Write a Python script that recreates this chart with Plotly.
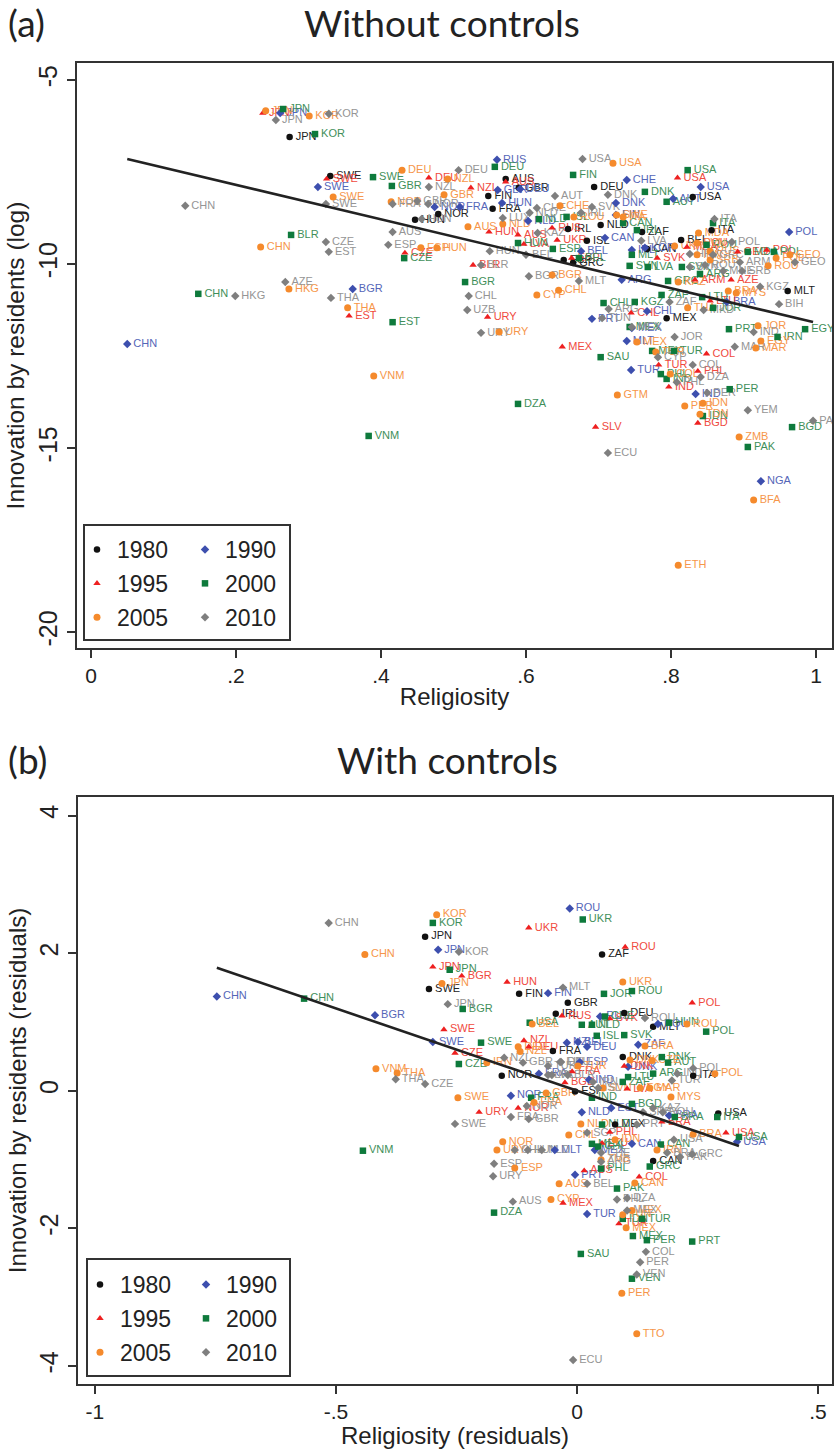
import plotly.graph_objects as go

YEARS = ["1980", "1990", "1995", "2000", "2005", "2010"]
TITLE_A = "Without controls"
TITLE_B = "With controls"

# ---------- Panel (a): religiosity vs log innovation ----------
A_1980_C = ["JPN","SWE","HUN","NOR","AUS","GBR","FIN","FRA","DEU","IRL","ISL","NLD","ZAF","BEL","CAN","ITA","MLT","MEX","USA","ESP","GRC"]
A_1980_X = [.274,.330,.447,.479,.572,.590,.548,.554,.694,.658,.684,.703,.760,.814,.767,.856,.961,.794,.830,.652,.665]
A_1980_Y = [-6.55,-7.61,-8.80,-8.64,-7.69,-7.93,-8.15,-8.50,-7.91,-9.05,-9.37,-8.94,-9.13,-9.35,-9.59,-9.08,-10.73,-11.47,-8.18,-9.89,-9.97]

A_1990_C = ["CHN","JPN","SWE","BGR","NOR","FRA","RUS","GBR","HUN","DEU","NLD","CHE","DNK","FIN","BEL","CAN","USA","AUT","POL","ARG","IRL","KOR","CHL","PRT","MLT","MEX","TUR","IND","BRA","NGA"]
A_1990_X = [.050,.261,.313,.361,.474,.509,.560,.561,.567,.592,.603,.739,.724,.724,.676,.709,.841,.803,.963,.732,.746,.764,.767,.691,.739,.746,.745,.834,.877,.924]
A_1990_Y = [-12.17,-5.90,-7.91,-10.68,-8.45,-8.45,-7.17,-7.99,-8.34,-7.96,-8.83,-7.72,-8.34,-8.67,-9.65,-9.29,-7.91,-8.23,-9.13,-10.43,-9.62,-9.56,-11.28,-11.49,-12.09,-11.74,-12.88,-13.53,-11.03,-15.90]

A_1995_C = ["JPN","SWE","DEU","CZE","EST","NZL","AUS","HUN","AUS","LVA","UKR","RUS","BLR","URY","MEX","CHL","SLV","TUR","IND","COL","PHL","BGD","SVK","ESP","LTU","AZE","GEO","MDA","ROU","USA","ARM","POL"]
A_1995_X = [.237,.325,.466,.433,.356,.524,.572,.549,.589,.597,.643,.636,.527,.547,.650,.745,.696,.783,.797,.849,.837,.837,.781,.663,.854,.883,.892,.822,.836,.809,.833,.932]
A_1995_Y = [-5.90,-7.69,-7.66,-9.70,-11.41,-7.93,-7.77,-9.13,-9.21,-9.46,-9.35,-9.02,-10.03,-11.44,-12.25,-11.33,-14.43,-12.74,-13.34,-12.44,-12.91,-14.32,-9.84,-9.84,-11.00,-10.43,-9.67,-9.54,-9.43,-7.66,-10.43,-9.62]

A_2000_C = ["JPN","KOR","SWE","GBR","BLR","CHN","EST","CZE","VNM","DEU","FIN","USA","DNK","AUT","NLD","ISL","CAN","ITA","IRL","HUN","ESP","BEL","MLT","SVN","LVA","GRC","BGR","CHL","KGZ","ZAF","LTU","JOR","MDA","POL","SVK","ARG","ROU","PRT","EGY","IRN","MEX","MEX","TUR","SAU","DZA","PER","BGD","PAK","IDN","PHL","IND"]
A_2000_X = [.265,.309,.389,.415,.276,.148,.416,.432,.383,.557,.665,.823,.764,.794,.618,.656,.734,.858,.753,.589,.637,.673,.746,.743,.768,.796,.516,.707,.750,.787,.843,.858,.906,.942,.815,.840,.849,.880,.985,.947,.743,.774,.804,.703,.589,.881,.967,.906,.844,.786,.794]
A_2000_Y = [-5.79,-6.47,-7.64,-7.88,-9.21,-10.81,-11.58,-9.84,-14.67,-7.36,-7.58,-7.45,-8.04,-8.31,-8.78,-8.72,-8.89,-8.89,-9.08,-9.43,-9.59,-9.84,-9.75,-10.05,-10.08,-10.46,-10.49,-11.06,-11.03,-10.84,-10.90,-11.19,-9.67,-9.67,-10.08,-10.27,-9.48,-11.77,-11.77,-11.98,-11.71,-12.36,-12.36,-12.53,-13.80,-13.40,-14.43,-14.97,-14.13,-12.99,-13.12]

A_2005_C = ["JPN","KOR","SWE","DEU","NOR","CHN","HKG","THA","VNM","ESP","HUN","GBR","NZL","CHE","USA","AUS","NLD","CYP","CHL","BGR","URY","ROU","ITA","SWE","MDA","UKR","SVN","IRN","SRB","RUS","GEO","ROU","POL","BRA","MYS","THA","KAZ","JOR","EGY","MAR","MEX","TUR","GTM","PER","IDN","TDN","ZMB","COL","ETH","BFA"]
A_2005_X = [.241,.301,.334,.429,.414,.234,.273,.354,.390,.455,.477,.487,.492,.647,.720,.520,.568,.615,.645,.636,.563,.666,.734,.725,.838,.805,.836,.836,.854,.854,.964,.934,.945,.879,.890,.823,.810,.920,.924,.917,.753,.779,.726,.819,.844,.840,.894,.799,.810,.914]
A_2005_Y = [-5.84,-5.98,-8.18,-7.45,-8.31,-9.54,-10.68,-11.19,-13.04,-9.56,-9.56,-8.12,-7.69,-8.42,-7.26,-8.99,-8.91,-10.84,-10.71,-10.30,-11.85,-8.72,-8.72,-8.67,-9.16,-9.51,-9.43,-9.75,-9.89,-9.65,-9.75,-10.05,-9.84,-10.73,-10.79,-11.19,-10.49,-11.68,-12.09,-12.28,-12.12,-12.39,-13.56,-13.86,-13.78,-14.08,-14.70,-12.99,-18.18,-16.41]

A_2010_C = ["JPN","KOR","SWE","CHN","CZE","EST","AZE","HKG","THA","AUS","ESP","FRA","NZL","GBR","NOR","HUN","DEU","USA","AUT","DNK","SVK","IRL","CHE","LUX","NLD","KAZ","ITA","POL","LVA","HUN","BEL","BLR","BGR","MLT","CHL","UZB","ARG","ZAF","KGZ","BIH","ARM","SRB","MNE","GEO","HRV","SVN","GRC","ROU","MKD","URY","TUN","CYP","JOR","MAR","IND","COL","DZA","PHL","PER","YEM","PAK","ECU","MEX"]
A_2010_X = [.255,.328,.324,.130,.324,.328,.268,.199,.331,.416,.410,.416,.466,.450,.465,.456,.507,.678,.640,.713,.691,.676,.615,.568,.605,.616,.860,.884,.759,.550,.600,.538,.604,.673,.521,.519,.714,.798,.923,.949,.895,.898,.872,.971,.826,.826,.858,.847,.845,.538,.705,.782,.805,.888,.914,.830,.841,.808,.850,.906,.996,.713,.746]
A_2010_Y = [-6.09,-5.92,-8.37,-8.42,-9.40,-9.67,-10.49,-10.87,-10.92,-9.13,-9.48,-8.37,-7.91,-8.29,-8.37,-8.78,-7.45,-7.15,-8.15,-8.12,-8.45,-8.61,-8.48,-8.75,-8.61,-9.16,-8.78,-9.40,-9.37,-9.65,-9.75,-10.03,-10.33,-10.46,-10.87,-11.25,-11.22,-11.03,-10.62,-11.09,-9.95,-10.19,-10.19,-9.95,-9.73,-10.08,-9.75,-10.03,-11.25,-11.87,-11.47,-12.53,-11.98,-12.25,-11.85,-12.74,-13.07,-13.21,-13.50,-13.97,-14.26,-15.13,-11.71]

FIT_A_X = [.050, .996]
FIT_A_Y = [-7.147, -11.576]

# ---------- Panel (b): residuals ----------
B_1980_C = ["JPN","SWE","FIN","GBR","FRA","NOR","ZAF","DEU","IRL","MLT","DNK","ESP","MEX","CAN","USA","ITA"]
B_1980_X = [-.315,-.307,-.120,-.019,-.050,-.156,.052,.098,-.044,.158,.095,-.004,.079,.158,.293,.241]
B_1980_Y = [2.24,1.48,1.41,1.28,.58,.22,1.98,1.13,1.12,.93,.49,-.01,-.49,-1.02,-.33,.22]

B_1990_C = ["CHN","JPN","BGR","SWE","FIN","ROU","FRA","NOR","DEU","BEL","NZL","RUS","ROU","ZAF","DNK","IND","NLD","EST","BRA","USA","CAN","MLT","TUR","PRT","MEX","ESP"]
B_1990_X = [-.747,-.288,-.419,-.299,-.060,-.015,-.079,-.137,.021,.002,-.021,.048,.168,.127,.106,.025,.010,.071,.191,.332,.114,-.046,.021,-.004,.037,.006]
B_1990_Y = [1.37,2.05,1.10,.71,1.42,2.65,.25,-.07,.64,.71,.70,1.08,.97,.67,.35,.16,-.31,-.25,-.36,-.74,-.77,-.86,-1.79,-1.22,-.86,.42]

B_1995_C = ["JPN","BGR","HUN","SWE","UKR","CZE","URY","NOR","NZL","DEU","FRA","BGD","ROU","POL","RUS","SVK","LVA","DNK","BRA","USA","PHL","MEX","AUS","LTU","COL","TUR"]
B_1995_X = [-.299,-.239,-.145,-.276,-.100,-.253,-.203,-.122,-.110,-.100,-.010,-.025,.100,.239,-.031,.068,.104,.098,.176,.309,.068,-.029,.015,.052,.129,.087]
B_1995_Y = [1.80,1.67,1.58,.89,2.37,.55,-.31,-.25,.73,.64,.28,.12,2.09,1.28,1.09,1.05,.03,.36,-.45,-.61,-.60,-1.63,-1.16,-.76,-1.25,-1.93]

B_2000_C = ["KOR","UKR","JPN","BGR","CHN","SWE","CZE","USA","FRA","VNM","JOR","ROU","AUT","NLD","CHE","ISL","SVK","POL","HUN","DNK","AUT","ARG","LTU","ZAF","IND","BGD","BRA","ITA","USA","NLD","MEX","CHL","CAN","GRC","PHL","PAK","DZA","TUR","IDN","MEX","PER","PRT","SAU","VEN"]
B_2000_X = [-.299,.012,-.264,-.237,-.566,-.199,-.245,-.098,-.095,-.444,.056,.114,.010,.031,.058,.041,.098,.268,.191,.176,.189,.158,.106,.095,.031,.114,.203,.291,.336,.052,.031,.044,.174,.151,.050,.083,-.172,.135,.095,.116,.145,.239,.008,.114]
B_2000_Y = [2.44,2.49,1.76,1.19,1.34,.70,.39,.99,-.10,-.87,1.41,1.45,.96,.96,1.08,.80,.81,.86,.99,.49,.41,.25,.20,.13,-.10,-.19,-.38,-.38,-.67,-.49,-.77,-.81,-.78,-1.10,-1.13,-1.42,-1.77,-1.86,-1.86,-2.11,-2.17,-2.19,-2.37,-2.73]

B_2005_C = ["KOR","CHN","JPN","VNM","THA","SWE","FRA","GBR","NOR","URY","NZL","DEU","IRN","UKR","ROU","BEL","ESP","CHL","NLD","MYS","POL","BRA","CZE","DNK","TUR","SVN","EGY","MAR","BRA","IRN","CAN","AUS","CYP","ZMB","IDN","MEX","TUN","MEX","PER","TTO"]
B_2005_X = [-.291,-.440,-.280,-.417,-.373,-.247,-.089,-.064,-.154,-.166,-.118,-.122,-.187,.095,.228,-.093,-.129,-.017,.008,.195,.286,.141,.156,.110,.002,.054,.131,.151,.241,.166,.120,-.037,-.054,.050,.079,.114,.095,.102,.093,.124]
B_2005_Y = [2.56,1.98,1.56,.32,.26,-.10,-.17,-.03,-.74,-.86,.57,.64,.41,1.58,.97,.97,-1.12,-.64,-.48,-.09,.25,.65,.44,.45,.36,.04,.04,.04,-.63,-.86,-1.34,-1.35,-1.58,-1.00,-.71,-1.74,-1.80,-1.99,-2.94,-3.53]

B_2010_C = ["CHN","KOR","JPN","THA","CZE","SWE","NZL","GBR","TUR","DEU","FRA","GBR","NOR","MLT","IRL","ESP","URY","AUS","BEL","CHL","HUN","NLD","SGP","CHE","ARG","USA","BRA","PAK","GRC","ROU","TUR","IND","POL","PRT","SRB","KAZ","ROU","DZA","PHL","MEX","ECU","COL","PER","VEN","IRN","ISL","FIN","LVA","BLR"]
B_2010_X = [-.515,-.245,-.268,-.376,-.315,-.253,-.151,-.112,-.060,-.033,-.137,-.100,-.104,-.029,-.052,-.172,-.174,-.133,.021,-.129,-.102,-.073,.021,.050,.050,.201,.187,.214,.239,.141,.197,.208,.241,.124,.137,.158,.178,.104,.083,.104,-.008,.143,.131,.124,.033,.044,-.035,-.060,-.019]
B_2010_Y = [2.44,2.02,1.26,.17,.10,-.48,.48,.41,.36,.42,-.38,-.41,-.22,1.50,.23,-1.06,-1.24,-1.61,-1.35,-.86,-.86,-.86,-.61,-.90,-1.03,-.71,-.90,-.96,-.92,1.06,.15,.25,.33,-.49,-.31,-.25,-.31,-1.56,-1.58,-1.74,-3.91,-2.34,-2.49,-2.67,.13,.04,.42,.23,.23]

FIT_B_X = [-.747, .336]
FIT_B_Y = [1.788, -.80]

# ---------- Styles ----------
W, H = 835, 1449
SYMBOL = {"1980":"circle","1990":"diamond","1995":"triangle-up","2000":"square","2005":"circle","2010":"diamond"}
MARK = {"1980":"#111111","1990":"#3d4fae","1995":"#ee2020","2000":"#0e7a3c","2005":"#f58a2c","2010":"#7f7f7f"}
TEXT = {"1980":"#222222","1990":"#5566b8","1995":"#f04a40","2000":"#3f8f5a","2005":"#f6964a","2010":"#959595"}
MSIZE = {"1980":6.5,"1990":6.5,"1995":6.5,"2000":6.5,"2005":7,"2010":6.5}
FONT = "Liberation Sans, Arial, sans-serif"
HEAD = "Lato, Carlito, Calibri, sans-serif"
AXC = "#333333"

A = {"1980":(A_1980_C,A_1980_X,A_1980_Y),"1990":(A_1990_C,A_1990_X,A_1990_Y),"1995":(A_1995_C,A_1995_X,A_1995_Y),
     "2000":(A_2000_C,A_2000_X,A_2000_Y),"2005":(A_2005_C,A_2005_X,A_2005_Y),"2010":(A_2010_C,A_2010_X,A_2010_Y)}
B = {"1980":(B_1980_C,B_1980_X,B_1980_Y),"1990":(B_1990_C,B_1990_X,B_1990_Y),"1995":(B_1995_C,B_1995_X,B_1995_Y),
     "2000":(B_2000_C,B_2000_X,B_2000_Y),"2005":(B_2005_C,B_2005_X,B_2005_Y),"2010":(B_2010_C,B_2010_X,B_2010_Y)}

LEFT_COL = ["1980", "1995", "2005"]
fig = go.Figure()

def panel(data, xa, ya, leg_l, leg_r):
    for yr in YEARS:
        c, x, y = data[yr]
        fig.add_trace(go.Scatter(x=x, y=y, mode="text", text=["\u00a0\u00a0" + s for s in c], textposition="middle right",
                                 textfont=dict(size=11, color=TEXT[yr], family=FONT),
                                 showlegend=False, hoverinfo="skip", xaxis=xa, yaxis=ya))
    for yr in YEARS:
        c, x, y = data[yr]
        fig.add_trace(go.Scatter(x=x, y=y, mode="markers", name=yr, text=c,
                                 marker=dict(symbol=SYMBOL[yr], size=MSIZE[yr], color=MARK[yr], line=dict(width=0)),
                                 legend=leg_l if yr in LEFT_COL else leg_r, legendgroup=xa + yr,
                                 xaxis=xa, yaxis=ya))

panel(A, "x", "y", "legend", "legend2")
fig.add_trace(go.Scatter(x=FIT_A_X, y=FIT_A_Y, mode="lines", line=dict(color="#222222", width=2.6), showlegend=False, xaxis="x", yaxis="y"))
panel(B, "x2", "y2", "legend3", "legend4")
fig.add_trace(go.Scatter(x=FIT_B_X, y=FIT_B_Y, mode="lines", line=dict(color="#222222", width=2.6), showlegend=False, xaxis="x2", yaxis="y2"))

def axis(tick=21, **k):
    d = dict(showgrid=False, zeroline=False, showline=True, mirror=True, linecolor=AXC, linewidth=2,
             ticks="outside", ticklen=8, tickwidth=1.5, tickcolor=AXC,
             tickfont=dict(size=tick, family=FONT, color="#222222"))
    d.update(k)
    return d

def ptitle(t, s, so):
    return dict(text=t, font=dict(size=s, family=FONT, color="#222222"), standoff=so)

px, py = lambda v: v / W, lambda v: 1 - v / H

def legend(x, y):
    return dict(x=px(x), y=py(y), xanchor="left", yanchor="top", bgcolor="rgba(0,0,0,0)", borderwidth=0,
                font=dict(size=23, family=FONT, color="#222222"), tracegroupgap=1, itemclick=False, itemdoubleclick=False)

head = dict(size=37, family=HEAD, color="#222222")

fig.update_layout(
    width=W, height=H, margin=dict(l=0, r=0, t=0, b=0), plot_bgcolor="white", paper_bgcolor="white",
    xaxis=axis(domain=[px(77), px(832)], range=[-.0193, 1.0221], tickvals=[0,.2,.4,.6,.8,1], ticktext=["0",".2",".4",".6",".8","1"],
               title=ptitle("Religiosity", 24, 2), anchor="y"),
    yaxis=axis(tick=25, domain=[py(648), py(63)], range=[-20.43, -4.54], tickvals=[-5,-10,-15,-20], ticktext=["-5","-10","-15","-20"], tickangle=-90,
               title=ptitle("Innovation by residents (log)", 24.5, 2), anchor="x"),
    xaxis2=axis(domain=[px(78), px(832)], range=[-1.035, .529], tickvals=[-1,-.5,0,.5], ticktext=["-1","-.5","0",".5"],
                title=ptitle("Religiosity (residuals)", 24, 2), anchor="y2"),
    yaxis2=axis(tick=25, domain=[py(1384), py(797)], range=[-4.26, 4.27], tickvals=[-4,-2,0,2,4], ticktext=["-4","-2","0","2","4"], tickangle=-90,
                title=ptitle("Innovation by residents (residuals)", 24, 2), anchor="x2"),
    legend=legend(77, 528), legend2=legend(185, 528), legend3=legend(80, 1263), legend4=legend(186, 1263),
    shapes=[
        dict(type="rect", xref="paper", yref="paper", x0=px(84), x1=px(290), y0=py(640), y1=py(525), line=dict(color=AXC, width=2), fillcolor="white", layer="below"),
        dict(type="rect", xref="paper", yref="paper", x0=px(87), x1=px(290), y0=py(1376), y1=py(1259), line=dict(color=AXC, width=2), fillcolor="white", layer="below"),
    ],
    annotations=[
        dict(text="(a)", x=px(6), y=py(22), xref="paper", yref="paper", xanchor="left", yanchor="middle", showarrow=False, font=head),
        dict(text=TITLE_A, x=px(442), y=py(22), xref="paper", yref="paper", xanchor="center", yanchor="middle", showarrow=False, font=head),
        dict(text="(b)", x=px(6), y=py(759), xref="paper", yref="paper", xanchor="left", yanchor="middle", showarrow=False, font=head),
        dict(text=TITLE_B, x=px(447), y=py(759), xref="paper", yref="paper", xanchor="center", yanchor="middle", showarrow=False, font=head),
    ],
)

fig.write_html("out.html", config={"displayModeBar": False}, post_script="document.body.style.margin='0';")
